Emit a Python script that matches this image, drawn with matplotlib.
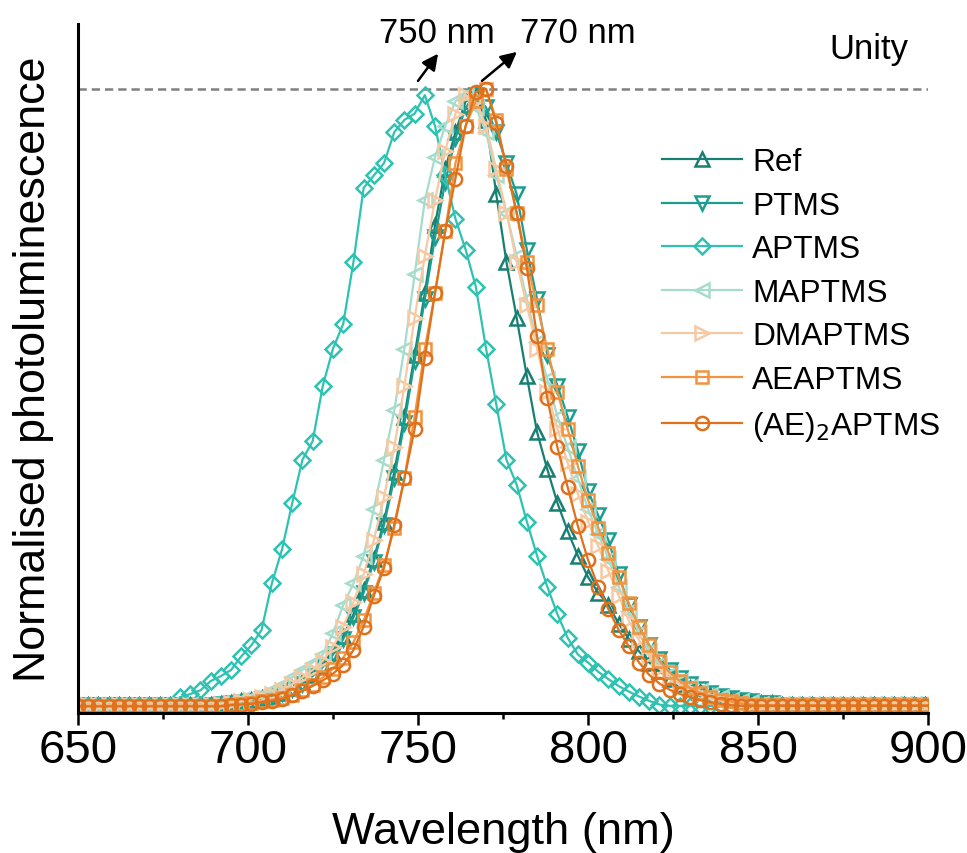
import numpy as np
import matplotlib
matplotlib.use("Agg")
import matplotlib.pyplot as plt

plt.rcParams['font.family'] = ['Liberation Sans', 'DejaVu Sans']

# Wavelength sampling (nm), shared by every spectrum
wavelength = np.arange(650, 903, 3)

# Normalised PL intensities, one value per wavelength sample
ref = [0.004]*14 + [
    0.005, 0.007, 0.009, 0.011, 0.014, 0.018, 0.023, 0.030, 0.040, 0.052,
    0.067, 0.088, 0.115, 0.150, 0.190, 0.240, 0.300, 0.380, 0.470, 0.570,
    0.670, 0.780, 0.870, 0.930, 0.980, 0.990, 0.950, 0.830, 0.720, 0.630,
    0.535, 0.445, 0.385, 0.330, 0.285, 0.245, 0.210, 0.185, 0.165, 0.135,
    0.110, 0.090, 0.072, 0.058, 0.046, 0.037, 0.030, 0.024, 0.019, 0.015,
    0.012, 0.010, 0.008, 0.007, 0.006] + [0.004]*16

ptms = [0.003]*14 + [
    0.005, 0.006, 0.008, 0.010, 0.013, 0.017, 0.022, 0.029, 0.038, 0.050,
    0.065, 0.085, 0.110, 0.145, 0.185, 0.235, 0.295, 0.370, 0.460, 0.560,
    0.660, 0.760, 0.850, 0.920, 0.970, 0.990, 0.970, 0.930, 0.880, 0.830,
    0.740, 0.660, 0.570, 0.520, 0.470, 0.415, 0.350, 0.310, 0.270, 0.215,
    0.165, 0.130, 0.100, 0.078, 0.060, 0.047, 0.037, 0.029, 0.023, 0.018,
    0.014, 0.011, 0.009, 0.007, 0.006] + [0.004]*16

aptms = [0.002]*10 + [
    0.016, 0.021, 0.027, 0.042, 0.050, 0.060, 0.082, 0.100, 0.125, 0.200,
    0.255, 0.330, 0.400, 0.430, 0.520, 0.580, 0.620, 0.720, 0.840, 0.860,
    0.880, 0.930, 0.950, 0.960, 0.990, 0.940, 0.860, 0.790, 0.740, 0.680,
    0.580, 0.490, 0.400, 0.360, 0.300, 0.245, 0.195, 0.150, 0.112, 0.085,
    0.072, 0.057, 0.045, 0.034, 0.025, 0.017, 0.010, 0.004] + [0.002]*27

maptms = [0.003]*14 + [
    0.006, 0.008, 0.011, 0.015, 0.020, 0.027, 0.036, 0.048, 0.060, 0.072,
    0.085, 0.120, 0.165, 0.200, 0.245, 0.320, 0.400, 0.480, 0.580, 0.700,
    0.820, 0.890, 0.940, 0.980, 0.990, 0.970, 0.930, 0.860, 0.800, 0.730,
    0.660, 0.590, 0.530, 0.470, 0.420, 0.370, 0.320, 0.280, 0.240, 0.195,
    0.155, 0.120, 0.090, 0.070, 0.054, 0.042, 0.033, 0.026, 0.020, 0.016,
    0.012, 0.010, 0.008] + [0.005]*18

dmaptms = [0.003]*14 + [
    0.005, 0.007, 0.009, 0.012, 0.016, 0.021, 0.028, 0.037, 0.048, 0.060,
    0.075, 0.097, 0.130, 0.170, 0.215, 0.270, 0.340, 0.420, 0.520, 0.630,
    0.730, 0.820, 0.900, 0.960, 0.990, 0.980, 0.940, 0.870, 0.800, 0.720,
    0.650, 0.580, 0.510, 0.450, 0.395, 0.345, 0.300, 0.260, 0.220, 0.180,
    0.140, 0.108, 0.082, 0.062, 0.047, 0.036, 0.027, 0.020, 0.015, 0.011,
    0.008, 0.006] + [0.004]*19

aeaptms = [0.002]*15 + [
    0.004, 0.005, 0.007, 0.009, 0.012, 0.015, 0.020, 0.027, 0.036, 0.048,
    0.062, 0.080, 0.105, 0.140, 0.185, 0.230, 0.290, 0.370, 0.470, 0.580,
    0.670, 0.770, 0.880, 0.940, 0.980, 1.000, 0.950, 0.870, 0.800, 0.720,
    0.650, 0.580, 0.510, 0.450, 0.390, 0.335, 0.290, 0.250, 0.210, 0.168,
    0.130, 0.100, 0.075, 0.056, 0.042, 0.031, 0.023, 0.017, 0.012, 0.009,
    0.006, 0.004] + [0.003]*18

ae2aptms = [0.001]*15 + [
    0.003, 0.004, 0.005, 0.008, 0.010, 0.013, 0.019, 0.026, 0.034, 0.043,
    0.054, 0.068, 0.092, 0.130, 0.180, 0.225, 0.295, 0.370, 0.450, 0.565,
    0.670, 0.770, 0.855, 0.940, 0.995, 1.000, 0.945, 0.875, 0.800, 0.710,
    0.600, 0.500, 0.420, 0.356, 0.293, 0.238, 0.195, 0.158, 0.125, 0.098,
    0.072, 0.052, 0.038, 0.028, 0.021, 0.016, 0.011, 0.008, 0.005, 0.003] + [0.002]*20

labels = ['Ref', 'PTMS', 'APTMS', 'MAPTMS', 'DMAPTMS', 'AEAPTMS', r'(AE)$_2$APTMS']
series = [ref, ptms, aptms, maptms, dmaptms, aeaptms, ae2aptms]
colors = ['#187f73', '#1b9e8e', '#2fc2b2', '#a6dccb', '#f7c9a2', '#f2933f', '#e0711c']
markers = ['^', 'v', 'D', '<', '>', 's', 'o']
msizes = [10, 10, 8, 10, 10, 8, 9.5]

fig = plt.figure(figsize=(9.67, 8.54), dpi=100)
ax = fig.add_axes([0.0807, 0.1639, 0.8790, 0.8068])

for y, lab, c, m, ms in zip(series, labels, colors, markers, msizes):
    ax.plot(wavelength, y, color=c, lw=1.6, marker=m, ms=ms,
            mfc='none', mec=c, mew=1.8, label=lab)

# Unity reference line
ax.axhline(1.0, color='#808080', lw=1.8, ls=(0, (3.3, 2.0)), zorder=0)
ax.text(882.6, 1.065, 'Unity', ha='center', va='center', fontsize=25)

# Peak position arrows and labels
ax.annotate('', xy=(755.9, 1.057), xytext=(750.0, 1.013),
            arrowprops=dict(arrowstyle='-|>', color='black', lw=1.8,
                            mutation_scale=24, shrinkA=0, shrinkB=0))
ax.annotate('', xy=(779.1, 1.060), xytext=(768.8, 1.013),
            arrowprops=dict(arrowstyle='-|>', color='black', lw=1.8,
                            mutation_scale=24, shrinkA=0, shrinkB=0))
ax.text(755.6, 1.092, '750 nm', ha='center', va='center', fontsize=25)
ax.text(797.1, 1.092, '770 nm', ha='center', va='center', fontsize=25)

ax.set_xlim(650, 900)
ax.set_ylim(-0.0097, 1.105)
ax.set_xticks([650, 700, 750, 800, 850, 900])
ax.set_xticks([675, 725, 775, 825, 875], minor=True)
ax.set_yticks([])
ax.tick_params(axis='x', which='major', direction='out', length=8.5, width=1.8,
               labelsize=34, pad=2)
ax.tick_params(axis='x', which='minor', direction='out', length=4.5, width=1.8)
for s in ['top', 'right']:
    ax.spines[s].set_visible(False)
for s in ['left', 'bottom']:
    ax.spines[s].set_linewidth(2.2)

ax.set_xlabel('Wavelength (nm)', fontsize=32.6, labelpad=28)
ax.set_ylabel('Normalised photoluminescence', fontsize=32.3, labelpad=17)

leg = ax.legend(loc='upper left', bbox_to_anchor=(662 / 967, 1 - 148 / 854),
                bbox_transform=fig.transFigure, frameon=False, fontsize=22.8,
                handlelength=2.52, handletextpad=0.32, labelspacing=0.43,
                borderaxespad=0, borderpad=0)

fig.savefig('out.png', dpi=100)
